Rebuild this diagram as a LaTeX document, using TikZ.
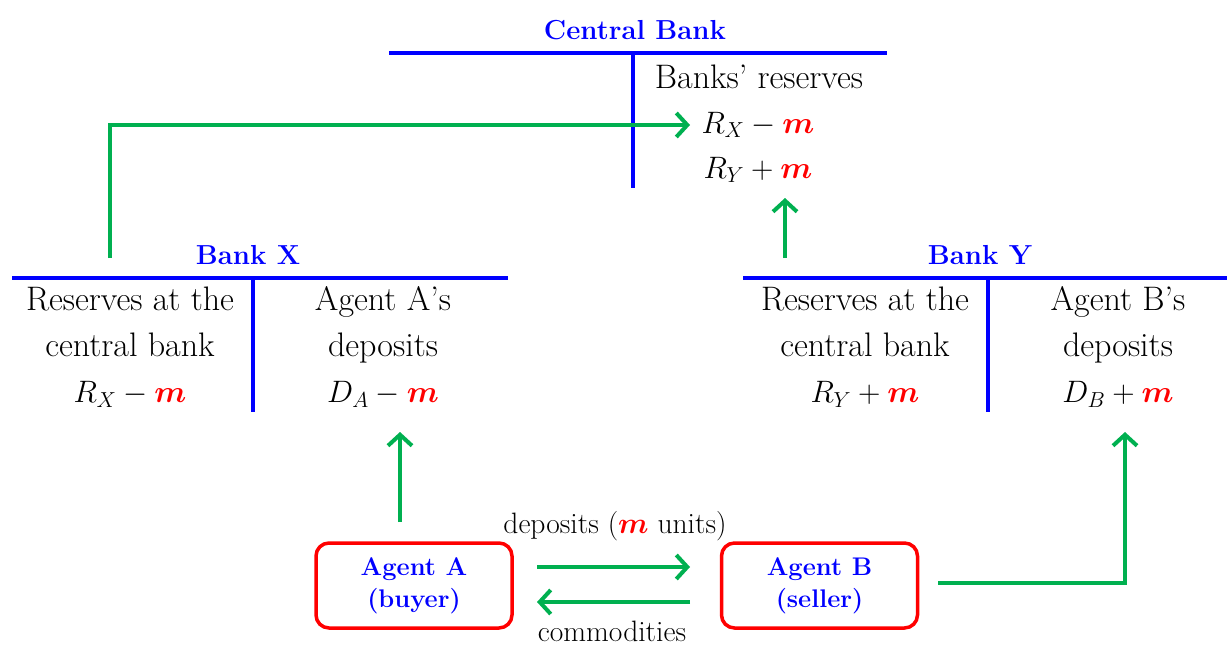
\RequirePackage{fix-cm}
\documentclass[tikz,border=0pt]{standalone}
\usepackage{bm}
\usetikzlibrary{arrows.meta}
\definecolor{cbblue}{RGB}{0,0,255}
\definecolor{arrgreen}{RGB}{0,176,80}
\definecolor{boxred}{RGB}{255,0,0}
\newcommand{\mm}{\textcolor{boxred}{\bm{m}}}
\newcommand{\eqsz}{\fontsize{31}{46}\selectfont}
\tikzset{
  ledger/.style={draw=cbblue, line width=4pt},
  booktitle/.style={text=cbblue, inner sep=0pt, font=\fontsize{27.5}{30}\selectfont\bfseries},
  entry/.style={inner sep=0pt, align=center, font=\fontsize{34}{46}\selectfont},
  mathentry/.style={inner sep=0pt, font=\eqsz},
  flowlabel/.style={inner sep=0pt, font=\fontsize{29.5}{32}\selectfont},
  flow/.style={draw=arrgreen, line width=4pt, -{Straight Barb[length=11pt,width=24pt]}},
  agent/.style={draw=boxred, line width=3.5pt, rounded corners=13pt, minimum width=196pt,
    minimum height=85pt, text=cbblue, align=center, font=\fontsize{25.5}{32}\selectfont\bfseries}
}
\begin{document}
\begin{tikzpicture}[x=1pt,y=-1pt]
\useasboundingbox (0,0) rectangle (1230,647);
% Central bank
\node[booktitle] (cbt) at (635,30) {Central Bank};
\coordinate (cbL) at (389,53); \coordinate (cbR) at (887,53);
\coordinate (cbT) at (633,53); \coordinate (cbB) at (633,188);
\draw[ledger] (cbL) -- (cbR);
\draw[ledger] (cbT) -- (cbB);
\node[entry] (cbr) at (759,77) {Banks’ reserves};
\node[mathentry] (cbrx) at (758,125) {$R_X - \mm$};
\node[mathentry] (cbry) at (758,170) {$R_Y + \mm$};
% Bank X
\node[booktitle] (bxt) at (248,255) {Bank X};
\coordinate (bxL) at (12,278); \coordinate (bxR) at (508,278);
\coordinate (bxT) at (253,278); \coordinate (bxB) at (253,412);
\draw[ledger] (bxL) -- (bxR);
\draw[ledger] (bxT) -- (bxB);
\node[entry] (bxl) at (130,347) {Reserves at the\\central bank\\{\eqsz$R_X - \mm$}};
\node[entry] (bxr) at (383,347) {Agent A’s\\deposits\\{\eqsz$D_A - \mm$}};
% Bank Y
\node[booktitle] (byt) at (980,255) {Bank Y};
\coordinate (byL) at (743,278); \coordinate (byR) at (1227,278);
\coordinate (byT) at (988,278); \coordinate (byB) at (988,412);
\draw[ledger] (byL) -- (byR);
\draw[ledger] (byT) -- (byB);
\node[entry] (byl) at (865,347) {Reserves at the\\central bank\\{\eqsz$R_Y + \mm$}};
\node[entry] (byr) at (1118,347) {Agent B’s\\deposits\\{\eqsz$D_B + \mm$}};
% Agents
\node[agent] (aa) at (414,585.5) {Agent A\\(buyer)};
\node[agent] (ab) at (819.5,585.5) {Agent B\\(seller)};
\node[flowlabel] (dep) at (615,526) {deposits ($\mm$ units)};
\node[flowlabel] (com) at (612,631) {commodities};
% flows
\coordinate (f1s) at (110,258); \coordinate (f1c) at (110,125); \coordinate (f1e) at (690,125);
\draw[flow] (f1s) -- (f1c) -- (f1e);
\coordinate (f2s) at (785,258); \coordinate (f2e) at (785,198);
\draw[flow] (f2s) -- (f2e);
\coordinate (f3s) at (400,522); \coordinate (f3e) at (400,432);
\draw[flow] (f3s) -- (f3e);
\coordinate (f4s) at (537,567); \coordinate (f4e) at (690,567);
\draw[flow] (f4s) -- (f4e);
\coordinate (f5s) at (690,602); \coordinate (f5e) at (537,602);
\draw[flow] (f5s) -- (f5e);
\coordinate (f6s) at (938,583); \coordinate (f6c) at (1125,583); \coordinate (f6e) at (1125,432);
\draw[flow] (f6s) -- (f6c) -- (f6e);
\end{tikzpicture}
\end{document}
